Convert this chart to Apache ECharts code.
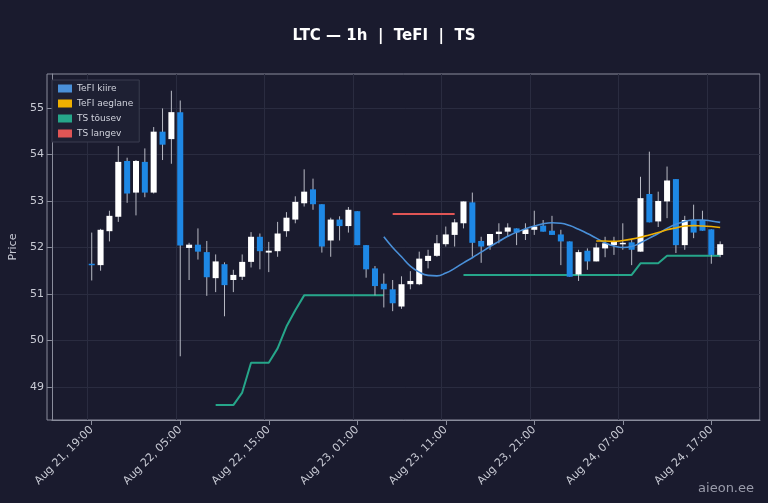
<!DOCTYPE html>
<html><head><meta charset="utf-8">
<script src="https://cdn.jsdelivr.net/npm/echarts@6/dist/echarts.min.js"></script>
<style>html,body{margin:0;background:#1a1b2e;}#c{width:768px;height:503px;}</style>
</head><body><div id="c"></div>
<script>
// [open, close, low, high] per hour starting Aug 21 19:00
const candles = [
[51.65,51.63,51.29,52.32],[51.62,52.38,51.5,52.4],[52.35,52.68,52.13,52.79],[52.66,53.84,52.55,54.18],
[53.86,53.16,52.96,53.93],[53.18,53.86,52.69,53.88],[53.84,53.18,53.08,54.13],[53.18,54.49,53.16,54.59],
[54.49,54.21,53.88,54.99],[54.33,54.91,53.8,55.37],[54.91,52.04,49.66,55.16],[51.99,52.06,51.3,52.1],
[52.06,51.91,51.74,52.41],[51.9,51.36,50.96,52.14],[51.34,51.7,51.04,51.85],[51.64,51.19,50.52,51.68],
[51.3,51.41,51.04,51.52],[51.37,51.69,51.3,51.85],[51.69,52.23,51.57,52.33],[52.23,51.92,51.53,52.3],
[51.89,51.93,51.47,52.12],[51.92,52.3,51.8,52.55],[52.35,52.64,52.23,52.76],[52.6,52.98,52.52,53.1],
[52.95,53.2,52.88,53.68],[53.25,52.93,52.81,53.48],[52.93,52.02,51.89,52.93],[52.15,52.6,51.8,52.64],
[52.6,52.46,52.15,52.67],[52.46,52.81,52.32,52.87],[52.78,52.05,52.05,52.78],[52.05,51.53,51.35,52.05],
[51.55,51.17,50.97,51.6],[51.22,51.1,50.71,51.44],[51.1,50.8,50.63,51.3],[50.73,51.21,50.68,51.38],
[51.21,51.28,51.1,51.49],[51.21,51.76,51.19,51.91],[51.71,51.82,51.55,51.95],[51.82,52.09,51.8,52.27],
[52.07,52.28,52.02,52.45],[52.27,52.54,52.02,52.61],[52.52,52.99,52.41,52.99],[52.97,52.1,51.8,53.18],
[52.14,52.02,51.67,52.23],[52.04,52.29,51.95,52.29],[52.29,52.34,52.09,52.52],[52.34,52.43,52.23,52.52],
[52.41,52.32,52.05,52.41],[52.29,52.39,52.16,52.52],[52.38,52.45,52.27,52.79],[52.47,52.34,52.34,52.59],
[52.36,52.27,52.27,52.68],[52.28,52.13,51.62,52.38],[52.13,51.37,51.37,52.13],[51.42,51.9,51.28,51.95],
[51.93,51.7,51.52,51.98],[51.7,52.0,51.7,52.09],[51.98,52.09,51.79,52.23],[52.05,52.12,51.84,52.23],
[52.08,52.1,51.95,52.52],[52.11,51.95,51.62,52.16],[51.91,53.06,51.91,53.52],[53.15,52.54,52.54,54.06],
[52.56,53.0,52.44,53.2],[52.99,53.44,52.63,53.74],[53.47,52.05,51.88,53.47],[52.05,52.59,51.95,52.68],
[52.59,52.32,52.2,52.92],[52.59,52.36,52.36,52.79],[52.39,51.84,51.65,52.39],[51.84,52.07,51.79,52.13]
];
const fast = {33:52.23,34:52.0,35:51.8,36:51.6,37:51.47,38:51.4,39:51.39,40:51.45,41:51.55,42:51.67,43:51.78,44:51.9,45:52.02,46:52.13,47:52.24,48:52.33,49:52.4,50:52.46,51:52.51,52:52.53,53:52.52,54:52.47,55:52.39,56:52.3,57:52.2,58:52.1,59:52.03,60:52.0,61:52.02,62:52.1,63:52.2,64:52.3,65:52.41,66:52.5,67:52.56,68:52.59,69:52.59,70:52.57,71:52.54};
const slow = {57:52.14,58:52.14,59:52.13,60:52.15,61:52.18,62:52.22,63:52.27,64:52.32,65:52.38,66:52.42,67:52.46,68:52.47,69:52.46,70:52.45,71:52.43};
const tsUp = {14:48.61,15:48.61,16:48.61,17:48.88,18:49.52,19:49.52,20:49.52,21:49.83,22:50.3,23:50.65,24:50.97,25:50.97,26:50.97,27:50.97,28:50.97,29:50.97,30:50.97,31:50.97,32:50.97,33:50.97,
 42:51.41,43:51.41,44:51.41,45:51.41,46:51.41,47:51.41,48:51.41,49:51.41,50:51.41,51:51.41,52:51.41,53:51.41,54:51.41,55:51.41,56:51.41,57:51.41,58:51.41,59:51.41,60:51.41,61:51.41,62:51.66,63:51.66,64:51.66,65:51.82,66:51.82,67:51.82,68:51.82,69:51.82,70:51.82,71:51.82};
const tsDown = {34:52.72,35:52.72,36:52.72,37:52.72,38:52.72,39:52.72,40:52.72,41:52.72};
const yTicks = [49,50,51,52,53,54,55];

const LEAD = 4, TOTAL = 80;
const cats = [];
for (let k = 0; k < TOTAL; k++) {
  const h = 15 + k; const d = 21 + Math.floor(h / 24); const hh = h % 24;
  cats.push('Aug ' + d + ', ' + String(hh).padStart(2,'0') + ':00');
}
const fromMap = m => { const o = new Array(TOTAL).fill(null); Object.keys(m).forEach(k=>o[+k+LEAD]=m[k]); return o; };
const cdata = candles.map((c,i)=>[i+LEAD, c[0], c[1], c[2], c[3]]);
const showIdx = i => i>=LEAD && (i-LEAD)%10===0;

function renderCandle(params, api){
  const x = api.value(0), o = api.value(1), c = api.value(2), l = api.value(3), h = api.value(4);
  const pH = api.coord([x,h]), pL = api.coord([x,l]), pO = api.coord([x,o]), pC = api.coord([x,c]);
  const w = api.size([1,0])[0]*0.68;
  const up = c >= o;
  const top = Math.min(pO[1],pC[1]), bh = Math.max(Math.abs(pO[1]-pC[1]),1.5);
  return {type:'group',children:[
    {type:'line',shape:{x1:pH[0],y1:pH[1],x2:pL[0],y2:pL[1]},style:{stroke:'#b8bac4',lineWidth:1}},
    {type:'rect',shape:{x:pO[0]-w/2,y:top,width:w,height:bh},style:{fill:up?'#ffffff':'#1e88e5'}}
  ]};
}

const chart = echarts.init(document.getElementById('c'));
chart.setOption({
  backgroundColor:'#1a1b2e',
  animation:false,
  title:{text:'LTC — 1h  |  TeFI  |  TS',left:'center',top:24,textStyle:{color:'#ffffff',fontSize:15,fontWeight:'bold',fontFamily:'DejaVu Sans'}},
  graphic:[
    {type:'rect',shape:{x:47,y:74,width:713,height:346},style:{fill:'none',stroke:'#8a8d9c',lineWidth:1},z:0},
    {type:'text',right:14,bottom:8,style:{text:'aieon.ee',fill:'#9a9cab',fontSize:13,fontFamily:'DejaVu Sans'}}
  ],
  legend:{left:52,top:80,orient:'vertical',itemWidth:14,itemHeight:8,itemGap:6,icon:'rect',
    backgroundColor:'#1e2033',borderColor:'#3a3d50',borderWidth:1,padding:[4,6],
    textStyle:{color:'#d0d2dc',fontSize:9,fontFamily:'DejaVu Sans'},
    data:['TeFI kiire','TeFI aeglane','TS tõusev','TS langev']},
  grid:{left:47,right:8,top:74,bottom:83},
  xAxis:{type:'category',data:cats,boundaryGap:true,
    axisLine:{lineStyle:{color:'#8a8d9c'}},
    axisTick:{show:true,alignWithLabel:true,interval:showIdx,lineStyle:{color:'#8a8d9c'}},
    axisLabel:{interval:showIdx,rotate:45,color:'#c8cad4',fontSize:11,fontFamily:'DejaVu Sans',margin:8},
    splitLine:{show:true,interval:showIdx,lineStyle:{color:'#2a2c40'}}},
  yAxis:{type:'value',min:48.29,max:55.73,name:'Price',nameLocation:'middle',nameGap:30,
    nameTextStyle:{color:'#c8cad4',fontSize:11,fontFamily:'DejaVu Sans'},
    axisLine:{show:true,lineStyle:{color:'#8a8d9c'}},
    axisTick:{show:true,customValues:yTicks,lineStyle:{color:'#8a8d9c'}},
    axisLabel:{customValues:yTicks,color:'#c8cad4',fontSize:11,fontFamily:'DejaVu Sans'},
    splitLine:{show:true,lineStyle:{color:'#2a2c40'}}},
  series:[
    {type:'custom',data:cdata,renderItem:renderCandle,encode:{x:0,y:[1,2,3,4]},z:3},
    {name:'TeFI kiire',type:'line',data:fromMap(fast),smooth:true,showSymbol:false,lineStyle:{color:'#4a90d9',width:1.6},itemStyle:{color:'#4a90d9'},z:4},
    {name:'TeFI aeglane',type:'line',data:fromMap(slow),smooth:true,showSymbol:false,lineStyle:{color:'#f0b000',width:1.6},itemStyle:{color:'#f0b000'},z:4},
    {name:'TS tõusev',type:'line',data:fromMap(tsUp),showSymbol:false,connectNulls:false,lineStyle:{color:'#26a68a',width:2},itemStyle:{color:'#26a68a'},z:2},
    {name:'TS langev',type:'line',data:fromMap(tsDown),showSymbol:false,lineStyle:{color:'#e05555',width:2},itemStyle:{color:'#e05555'},z:2}
  ]
});
</script></body></html>
